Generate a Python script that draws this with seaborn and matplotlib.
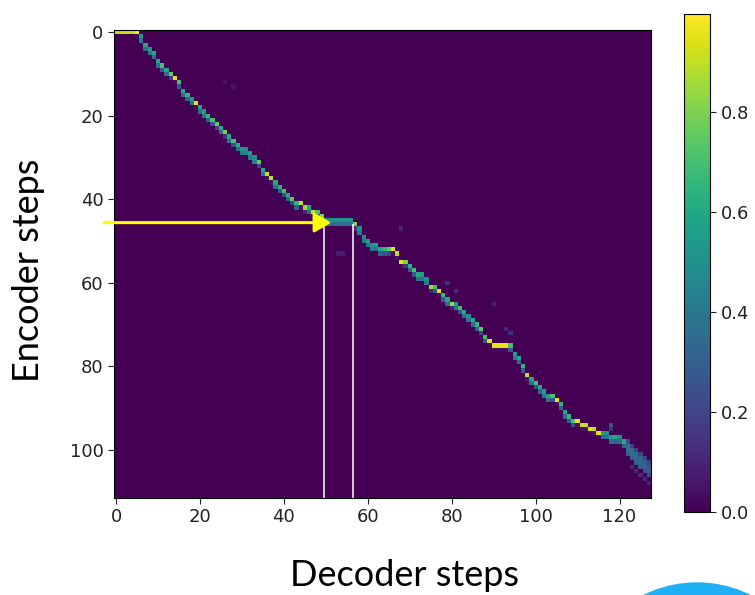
import matplotlib
matplotlib.use("Agg")
import matplotlib.pyplot as plt
from matplotlib.patches import Ellipse
import numpy as np
import pandas as pd
import seaborn as sns

N_ENC = 112
N_DEC = 128

# encoder step holding most of the attention, one entry per decoder step
enc_main = [
    0, 0, 0, 0, 0, 0,
    1, 3, 4, 5, 7, 8, 9, 10, 11, 12,
    14, 15, 16, 17, 18, 19, 20, 21, 22, 23,
    24, 25, 26, 27, 28, 28, 29, 30, 31, 33,
    34, 35, 36, 37, 38, 39, 40, 41, 41, 42,
    42, 43, 43, 44, 45, 45, 45, 45, 45, 45,
    45, 46, 47, 49, 50, 51, 51, 52, 52, 52,
    52, 53, 55, 55, 56, 57, 58, 58, 59, 61,
    61, 62, 63, 64, 65, 65, 66, 67, 68, 69,
    70, 71, 73, 74, 75, 75, 75, 75, 75, 77,
    78, 80, 82, 83, 84, 85, 86, 87, 87, 88,
    89, 91, 92, 93, 93, 94, 94, 95, 95, 96,
    96, 96, 97, 97, 97, 98, 99, 100, 101, 102,
    103, 104,
]
# weight on that encoder step
w_main = [
    .9, .9, .9, .9, .9, .996,
    .55, .6, .55, .6, .6, .7, .6, .75, .95, .7,
    .6, .65, .55, .95, .6, .55, .65, .7, .75, .6,
    .8, .6, .7, .6, .55, .5, .55, .5, .75, .6,
    .9, .9, .6, .65, .7, .6, .75, .65, .9, .85,
    .6, .9, .7, .8, .5, .5, .5, .5, .5, .5,
    .5, .8, .5, .5, .55, .5, .55, .6, .65, .75,
    .95, .9, .95, .8, .65, .7, .6, .55, .5, .85,
    .7, .95, .65, .6, .85, .55, .7, .6, .5, .6,
    .65, .75, .7, .95, .95, .95, .95, .95, .7, .55,
    .6, .65, .9, .6, .7, .6, .55, .55, .7, .95,
    .65, .6, .65, .7, .95, .9, .9, .95, .9, .95,
    .55, .5, .55, .6, .5, .6, .36, .36, .34, .32,
    .3, .28,
]
# weight on the following encoder step
w_next = [
    0, 0, 0, 0, 0, 0,
    .4, .35, .4, .35, .35, .25, .35, .2, .03, .25,
    .35, .3, .4, .03, .35, .4, .3, .25, .2, .35,
    .15, .35, .25, .35, .4, .45, .4, .45, .2, .35,
    .05, .05, .35, .3, .25, .35, .2, .3, .05, .1,
    .35, .05, .25, .15, .35, .35, .35, .35, .35, .35,
    .35, .15, .4, .4, .4, .4, .35, .3, .25, .2,
    .03, .05, .03, .15, .3, .25, .35, .4, .4, .1,
    .25, .03, .3, .35, .1, .4, .25, .35, .4, .35,
    .3, .2, .25, .03, .03, .03, .03, .03, .25, .4,
    .35, .3, .05, .35, .25, .35, .4, .4, .25, .03,
    .3, .35, .3, .25, .03, .05, .05, .03, .05, .03,
    .35, .4, .35, .3, .35, .3, .36, .36, .34, .32,
    .3, .28,
]

# faint cells off the main path (end smear and stray spots)
extra_dec = [122, 123, 124, 125, 126, 127, 122, 123, 124, 125, 126, 127,
             123, 124, 125, 126, 127,
             118, 118, 68, 79, 81, 90, 94, 93, 53, 54, 26, 28]
extra_enc = [101, 102, 103, 104, 105, 106, 98, 99, 100, 101, 102, 103,
             104, 105, 106, 107, 108,
             94, 95, 47, 60, 62, 65, 72, 71, 53, 53, 12, 13]
extra_w = [.3, .3, .3, .28, .26, .24, .2, .2, .2, .2, .2, .18,
           .12, .12, .12, .12, .1,
           .25, .15, .1, .12, .12, .08, .14, .1, .08, .08, .05, .05]

x_ticks = [0, 20, 40, 60, 80, 100, 120]
y_ticks = [0, 20, 40, 60, 80, 100]
cbar_ticks = [0.0, 0.2, 0.4, 0.6, 0.8]

sns.set_style("ticks")
plt.rcParams["font.family"] = ["DejaVu Sans"]

align = np.zeros((N_ENC, N_DEC))
for d, (e, w1, w2) in enumerate(zip(enc_main, w_main, w_next)):
    align[e, d] += w1
    if e + 1 < N_ENC:
        align[e + 1, d] += w2
for d, e, w in zip(extra_dec, extra_enc, extra_w):
    align[e, d] += w
df = pd.DataFrame(align)

W, H = 755, 595
fig = plt.figure(figsize=(W / 100, H / 100), dpi=100)
ax = fig.add_axes([114 / W, 97 / H, 537 / W, 468 / H])
cax = fig.add_axes([684 / W, 83 / H, 26 / W, 498 / H])

sns.heatmap(df, ax=ax, cmap="viridis", vmin=0, cbar_ax=cax,
            xticklabels=False, yticklabels=False)

ax.set_xticks([t + 0.5 for t in x_ticks])
ax.set_xticklabels([str(t) for t in x_ticks])
ax.set_yticks([t + 0.5 for t in y_ticks])
ax.set_yticklabels([str(t) for t in y_ticks], rotation=0)
ax.tick_params(axis="both", direction="out", length=4, width=0.8,
               labelsize=13, colors="#222222", bottom=True, left=True)
for s in ax.spines.values():
    s.set_visible(True)
    s.set_color("black")
    s.set_linewidth(0.8)
ax.set_xlabel("")
ax.set_ylabel("")

cb = ax.collections[0].colorbar
cb.set_ticks(cbar_ticks)
cb.set_ticklabels([f"{t:.1f}" for t in cbar_ticks])
cb.outline.set_visible(True)
cb.outline.set_linewidth(0.8)
cb.outline.set_edgecolor("black")
cax.tick_params(direction="out", length=4, width=0.8, labelsize=13,
                colors="#222222")

# highlighted stall in the alignment
ax.vlines([50, 57], ymin=46.5, ymax=N_ENC, colors="white", linewidth=1.1)
ax.annotate("", xy=(51.8, 46.1), xytext=(-2.4, 46.1),
            arrowprops=dict(arrowstyle="-|>,head_length=0.6,head_width=0.35",
                            color="#ffff00", lw=2.2, mutation_scale=17,
                            shrinkA=0, shrinkB=0),
            annotation_clip=False)

fig.text(404 / W, 1 - 576 / H, "Decoder steps", ha="center", va="center",
         fontsize=26, color="black", family=["Lato", "DejaVu Sans"])
fig.text(29 / W, 1 - 270 / H, "Encoder steps", ha="center", va="center",
         rotation=90, fontsize=26, color="black",
         family=["Lato", "DejaVu Sans"])

fig.add_artist(Ellipse((697 / W, 1 - 703 / H), 240 / W, 240 / H,
                       transform=fig.transFigure, color="#1fb0f5",
                       clip_on=False))

fig.savefig("out.png", dpi=100, facecolor="white")
plt.close(fig)
